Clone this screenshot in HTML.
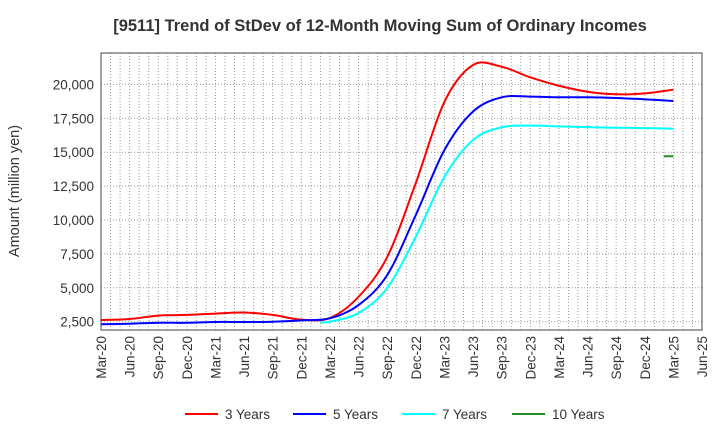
<!DOCTYPE html>
<html><head><meta charset="utf-8"><style>
body{margin:0;background:#fff;font-family:"Liberation Sans",Arial,sans-serif}
svg text{font-family:"Liberation Sans",Arial,sans-serif}
</style></head><body>
<svg id="c" width="720" height="440" xmlns="http://www.w3.org/2000/svg">
<text x="380" y="31" text-anchor="middle" font-size="16.5" font-weight="bold" fill="#333">[9511]  Trend of StDev of 12-Month Moving Sum of Ordinary Incomes</text>
<text transform="translate(19,191) rotate(-90)" text-anchor="middle" font-size="14.5" fill="#333">Amount (million yen)</text>
<g id="grid"></g><g id="series"></g><g id="axes"></g>
</svg>
<script>
const xTickLabels=["Mar-20","Jun-20","Sep-20","Dec-20","Mar-21","Jun-21","Sep-21","Dec-21","Mar-22","Jun-22","Sep-22","Dec-22","Mar-23","Jun-23","Sep-23","Dec-23","Mar-24","Jun-24","Sep-24","Dec-24","Mar-25","Jun-25"];
const yTicks=[2500,5000,7500,10000,12500,15000,17500,20000];
const monthsQ=[0,3,6,9,12,15,18,21,24,27,30,33,36,39,42,45,48,51,54,57,60];
const red=[2620,2700,2950,3000,3100,3180,3000,2650,2780,4340,7270,12730,18720,21430,21300,20520,19900,19460,19270,19340,19610];
const blue=[2310,2350,2420,2420,2480,2480,2500,2600,2750,3730,5940,10370,15160,18000,19050,19100,19050,19050,19000,18900,18780];
const cyanMonths=[23,24,27,30,33,36,39,42,45,48,51,54,57,60];
const cyan=[2450,2500,3140,4990,8770,13190,15900,16840,16960,16900,16850,16800,16780,16730];
const greenMonths=[59,60];
const green=[14700,14700];
const L=101,R=702,T=53,B=330;
const X=m=>L+m*(R-L)/63;
const Y=v=>321.7-(v-2500)/2500*33.9;
const NS="http://www.w3.org/2000/svg";
function mk(t,a,p){const e=document.createElementNS(NS,t);for(const k in a)e.setAttribute(k,a[k]);p.appendChild(e);return e;}
const grid=document.getElementById('grid'),ser=document.getElementById('series'),ax=document.getElementById('axes');
for(let m=1;m<63;m++){const l=mk('line',{x1:X(m),x2:X(m),y1:T,y2:B,stroke:'#999','stroke-dasharray':'1,2','stroke-width':1},grid);

}
yTicks.forEach(v=>{const l=mk('line',{x1:L,x2:R,y1:Y(v),y2:Y(v),stroke:'#999','stroke-dasharray':'1,2'},grid);


const t=mk('text',{x:94,y:Y(v)+5,'text-anchor':'end','font-size':13.5,fill:'#333'},ax);t.textContent=v.toLocaleString('en-US');

});
xTickLabels.forEach((s,i)=>{const x=X(i*3);const t=mk('text',{transform:`translate(${x+5},${B+6}) rotate(-90)`,'text-anchor':'end','font-size':13.5,fill:'#333'},ax);t.textContent=s;

});
const fr=mk('rect',{x:L,y:T,width:R-L,height:B-T,fill:'none',stroke:'#444','stroke-width':1},ax);


function path(ms,vs){const p=ms.map((m,i)=>[X(m),Y(vs[i])]);let d=`M${p[0][0]},${p[0][1]}`;
for(let i=0;i<p.length-1;i++){const p0=p[i-1]||p[i],p1=p[i],p2=p[i+1],p3=p[i+2]||p2;
d+=` C${p1[0]+(p2[0]-p0[0])/6},${p1[1]+(p2[1]-p0[1])/6} ${p2[0]-(p3[0]-p1[0])/6},${p2[1]-(p3[1]-p1[1])/6} ${p2[0]},${p2[1]}`;}return d;}
[[monthsQ,red,'#ff0000','series-3-years'],[monthsQ,blue,'#0000ff','series-5-years'],[cyanMonths,cyan,'#00ffff','series-7-years'],[greenMonths,green,'#228b22','series-10-years']].forEach(s=>{
const e=mk('path',{d:path(s[0],s[1]),fill:'none',stroke:s[2],'stroke-width':2},ser);

});
const leg=[['3 Years','#ff0000',185],['5 Years','#0000ff',293],['7 Years','#00ffff',402],['10 Years','#228b22',512]];
leg.forEach(l=>{const g=mk('g',{},ax);


mk('line',{x1:l[2],x2:l[2]+33,y1:414,y2:414,stroke:l[1],'stroke-width':2},g);
const t=mk('text',{x:l[2]+40,y:419,'font-size':13.5,fill:'#333'},g);t.textContent=l[0];});
</script>
</body></html>
